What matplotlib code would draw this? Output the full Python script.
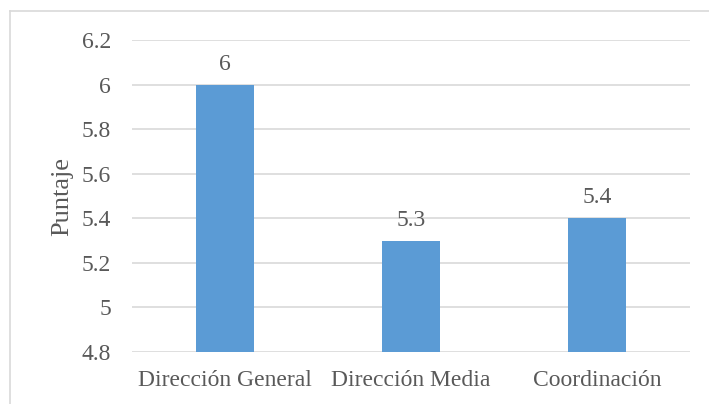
import matplotlib.pyplot as plt
from matplotlib.lines import Line2D

categorias = ['Dirección General', 'Dirección Media', 'Coordinación']
puntaje = [6, 5.3, 5.4]
etiquetas = ['6', '5.3', '5.4']
yticks = [4.8, 5, 5.2, 5.4, 5.6, 5.8, 6, 6.2]
ytick_labels = ['4.8', '5', '5.2', '5.4', '5.6', '5.8', '6', '6.2']

plt.rcParams['font.family'] = ['Liberation Serif', 'DejaVu Serif']
gris = '#595959'

fig = plt.figure(figsize=(7.09, 4.04), dpi=100)
ax = fig.add_axes([132/709, 1 - 352/404, (690 - 132)/709, (352 - 40)/404])

x = range(len(categorias))
ax.bar(x, puntaje, width=0.31, color='#5B9BD5', zorder=3)
for i, v in enumerate(puntaje):
    ax.text(i, v + 0.045, etiquetas[i], ha='center', va='bottom', fontsize=17, color=gris)

ax.set_ylim(4.8, 6.2)
ax.set_xlim(-0.5, 2.5)
ax.set_yticks(yticks)
ax.set_yticklabels(ytick_labels)
ax.set_xticks(list(x))
ax.set_xticklabels(categorias)
ax.tick_params(axis='both', length=0, labelsize=17, colors=gris)
ax.tick_params(axis='y', pad=15)
ax.tick_params(axis='x', pad=13)
ax.yaxis.grid(True, color='#D9D9D9', linewidth=1.2, zorder=0)
for s in ax.spines.values():
    s.set_visible(False)
ax.set_ylabel('Puntaje', fontsize=19, color=gris, labelpad=6)

# borde del grafico (solo izquierda y arriba visibles)
fig.add_artist(Line2D([10/709, 10/709], [0, 1 - 11/404], transform=fig.transFigure, color='#D9D9D9', linewidth=1.2))
fig.add_artist(Line2D([10/709, 1], [1 - 11/404, 1 - 11/404], transform=fig.transFigure, color='#D9D9D9', linewidth=1.2))

fig.savefig('out.png', dpi=100)
